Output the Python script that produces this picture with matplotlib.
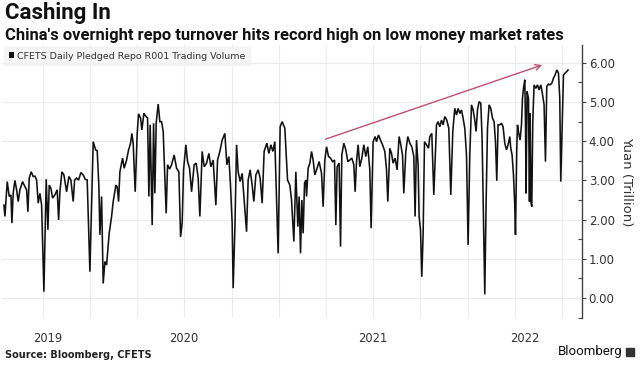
import matplotlib
matplotlib.use("Agg")
import matplotlib.pyplot as plt
import numpy as np
from matplotlib.patches import Patch
from matplotlib.ticker import MultipleLocator

# horizontal position along the chart (chart units) and R001 volume (trillion yuan)
pos = [
    4, 5, 7.3, 9.3, 11, 12, 13.3, 15, 16.7, 18.3, 20, 22.7, 25, 26.7, 28, 29.3,
    31.3, 33.3, 35, 36.7, 38.3, 40, 41.7, 44, 46.3, 48, 49.3, 51, 52.7, 55, 57.3,
    58.7, 60, 62, 64, 66.7, 69, 71, 73.3, 74.7, 76.7, 78.7, 81, 83.3, 85.3, 87.3,
    90, 93.3, 95.7, 97.3, 99, 100, 101.7, 103.3, 105, 106.7, 109.3, 111.7, 113.3,
    116, 117.3, 118.7, 120, 122.7, 124.3, 126.7, 128.7, 130.7, 132, 133.3, 135.3,
    137.3, 138.7, 140.7, 142, 144, 145, 147.7, 149, 150.3, 152.3, 153.7, 155,
    156.3, 158.3, 160, 161.7, 163.3, 166.3, 167.7, 169.7, 171.7, 174.3, 176.7,
    179, 180.7, 182.3, 183.7, 186, 187.7, 189.7, 191.7, 194.3, 196.3, 198.3, 200,
    202.3, 204.3, 206.7, 209, 211, 213.3, 216, 217.7, 220, 222.3, 225, 227, 229,
    230.7, 232.3, 233.3, 235, 236.7, 238.3, 240.3, 242.3, 244.3, 246.7, 248.3,
    250.3, 252.3, 254, 256, 258.3, 260.3, 262.3, 264.3, 267, 269, 271, 273, 275,
    278.3, 280.3, 282.3, 285, 287.7, 290, 291.7, 294, 296, 298, 299.3, 300.7, 302,
    303.3, 304.7, 306, 306.7, 308.3, 310, 311.7, 313.3, 315, 316.7, 319.3, 321.7,
    323.3, 325, 326.7, 328.7, 330.7, 332.7, 334.7, 336, 337.3, 339.3, 340.7, 342,
    344, 346, 348, 350, 352, 354, 355.3, 356.7, 358.3, 360, 362, 364, 366, 368,
    370, 371.3, 373.3, 375.3, 376.7, 378.7, 380.7, 382.7, 385, 386.7, 388, 390,
    391.7, 393.3, 395.3, 397.3, 399.3, 401, 402.7, 404, 406, 408, 410, 412, 414,
    415.3, 416.7, 418.3, 419.3, 420.7, 422, 423.3, 424.7, 426.7, 428.7, 430, 432,
    434, 436.7, 438.3, 440, 441.7, 443.3, 445, 447, 449, 451, 453, 455, 456.7,
    458.3, 460, 461.7, 463.3, 465, 466.7, 468.3, 470, 471.7, 473.3, 475, 476.3,
    477.7, 479.3, 481, 482.3, 483.7, 485, 486.3, 487.7, 489.3, 491, 492.7, 494.3,
    495.7, 497, 498.3, 500, 501.7, 503.3, 505, 506.7, 508.3, 510, 511, 512.3,
    513.7, 515, 515.7, 517, 517.7, 519, 520.3, 521.7, 522.7, 523.7, 525, 525.7,
    526.3, 527.3, 528.7, 529.7, 530.3, 531.3, 532, 533, 534.3, 536, 537.7, 539.3,
    541, 542.3, 544.3, 545.7, 547, 548.7, 550.3, 552, 553.7, 555.3, 557, 558.7,
    560, 561, 562.3, 563.7, 565.3, 567, 568.3,
]
volume = [
    2.37, 2.08, 2.97, 2.59, 2.63, 1.91, 2.68, 3.00, 2.76, 2.46, 2.76, 2.97, 2.84,
    2.76, 2.20, 3.06, 3.22, 3.10, 3.11, 3.01, 2.42, 2.67, 2.37, 0.16, 3.03, 1.74,
    2.88, 2.80, 2.55, 2.63, 2.76, 1.99, 2.71, 3.22, 3.14, 2.71, 3.10, 3.01, 2.46,
    3.01, 3.06, 3.01, 3.20, 3.14, 3.03, 3.01, 0.67, 3.99, 3.78, 3.76, 2.84, 1.61,
    2.59, 0.37, 0.93, 0.84, 1.65, 2.08, 2.46, 2.88, 2.84, 2.46, 3.22, 3.57, 3.31,
    3.52, 3.78, 3.95, 4.20, 3.95, 2.71, 4.20, 4.70, 4.59, 4.29, 4.71, 4.67, 4.59,
    2.59, 4.42, 1.86, 4.46, 2.67, 4.46, 4.95, 4.50, 4.50, 4.25, 2.16, 3.40, 3.29,
    3.40, 3.65, 3.31, 3.22, 1.56, 1.91, 3.27, 3.91, 3.48, 3.31, 2.71, 3.40, 3.44,
    3.06, 2.08, 3.74, 3.35, 3.44, 3.69, 3.35, 3.52, 2.37, 3.52, 3.74, 4.03, 4.20,
    3.40, 3.61, 2.84, 1.91, 0.25, 1.74, 3.91, 3.22, 2.97, 3.18, 2.50, 1.69, 3.01,
    3.27, 2.88, 2.46, 3.14, 3.27, 3.06, 2.42, 3.74, 3.95, 3.69, 3.91, 3.74, 3.99,
    1.14, 4.37, 4.50, 4.33, 3.01, 2.88, 2.50, 1.44, 3.22, 1.82, 2.59, 1.14, 2.50,
    1.65, 2.93, 3.01, 2.59, 3.31, 3.44, 3.74, 3.52, 3.14, 3.27, 3.48, 3.18, 2.33,
    3.52, 3.86, 3.61, 3.57, 3.48, 3.52, 1.86, 3.35, 3.44, 1.31, 3.65, 3.95, 3.78,
    3.48, 3.52, 3.57, 3.40, 2.71, 3.48, 3.91, 3.35, 3.57, 3.91, 3.61, 3.86, 3.27,
    1.78, 3.99, 4.12, 3.99, 4.16, 4.03, 3.91, 3.74, 3.27, 2.46, 3.82, 3.69, 3.44,
    3.57, 3.27, 4.12, 3.91, 3.65, 2.67, 3.74, 4.12, 3.95, 3.86, 3.61, 2.08, 4.03,
    3.40, 2.08, 1.74, 0.54, 1.61, 3.99, 3.91, 3.82, 4.12, 4.20, 2.63, 4.42, 4.50,
    4.37, 4.54, 4.42, 4.63, 4.54, 4.33, 2.63, 4.25, 4.84, 4.67, 4.84, 4.71, 4.80,
    4.59, 4.33, 3.65, 1.35, 3.65, 4.93, 4.80, 4.54, 4.25, 4.80, 5.01, 4.97, 4.08,
    1.95, 0.09, 2.40, 4.33, 4.93, 4.84, 4.59, 4.50, 3.99, 2.99, 4.42, 4.42, 4.46,
    4.37, 3.95, 3.78, 3.91, 4.12, 3.82, 3.65, 3.14, 2.37, 1.61, 3.82, 4.42, 4.20,
    4.03, 4.42, 5.10, 5.35, 5.57, 4.50, 2.67, 5.27, 5.10, 2.46, 4.71, 2.42, 2.33,
    4.50, 5.44, 5.35, 5.44, 5.31, 5.44, 5.27, 4.93, 3.48, 5.40, 5.46, 5.44, 5.48,
    5.61, 5.69, 5.82, 5.74, 5.10, 2.97, 4.33, 5.69, 5.74, 5.78, 5.82,
]

year_labels = ["2019", "2020", "2021", "2022"]
year_pos = [48, 184, 373, 525]

# trend arrow drawn on the chart: (position, value)
arrow_start = (323, 4.03)
arrow_end = (545, 5.97)

fig = plt.figure(figsize=(6.4, 3.65), dpi=100)
fig.patch.set_facecolor("white")
ax = fig.add_axes([0.003, 0.129, 0.906, 0.748])

ax.plot(pos, volume, color="#111111", linewidth=1.15, solid_joinstyle="miter")

ax.set_xlim(2, 582)
ax.set_ylim(-0.51, 6.46)

# light grid
for gx in np.arange(43, 575, 47.2):
    ax.axvline(gx, color="#ececec", linewidth=0.8, zorder=0)
for gy in range(0, 7):
    ax.axhline(gy, color="#ececec", linewidth=0.8, zorder=0)

ax.annotate(
    "", xy=arrow_end, xytext=arrow_start,
    arrowprops=dict(arrowstyle="->", color="#c0506e", lw=1.0, mutation_scale=10),
)

for side in ["top", "left", "bottom"]:
    ax.spines[side].set_visible(False)
ax.spines["right"].set_color("#444444")
ax.spines["right"].set_linewidth(1.0)

ax.yaxis.tick_right()
ax.set_yticks(range(0, 7))
ax.set_yticklabels([f"{v:.2f}" for v in range(0, 7)])
ax.yaxis.set_minor_locator(MultipleLocator(0.5))
ax.tick_params(axis="y", which="major", direction="out", length=3, width=0.8,
               color="#444444", labelsize=8.5, labelcolor="#333333", pad=2)
ax.tick_params(axis="y", which="minor", direction="in", length=3, width=0.8,
               color="#444444")
ax.yaxis.set_label_position("right")
ax.set_ylabel("Yuan (Trillion)", rotation=270, fontsize=9.5, color="#333333",
              labelpad=13)

ax.set_xticks(year_pos)
ax.set_xticklabels(year_labels)
ax.tick_params(axis="x", length=0, labelsize=8.3, labelcolor="#333333", pad=10)

leg = ax.legend(
    handles=[Patch(facecolor="#111111", edgecolor="none")],
    labels=["CFETS Daily Pledged Repo R001 Trading Volume"],
    loc="upper left", bbox_to_anchor=(0.0, 1.0), fontsize=6.8,
    frameon=True, fancybox=False, handlelength=0.6, handleheight=0.6,
    handletextpad=0.3, borderpad=0.5, borderaxespad=0.2,
)
leg.get_frame().set_facecolor("#f3f3f3")
leg.get_frame().set_edgecolor("#f3f3f3")
for t in leg.get_texts():
    t.set_color("#333333")

fig.text(0.008, 0.965, "Cashing In", fontsize=16, fontweight="bold",
         family="Roboto", color="#111111", va="center", ha="left")
fig.text(0.008, 0.903,
         "China's overnight repo turnover hits record high on low money market rates",
         fontsize=11.9, fontweight="bold", family="Roboto", color="#111111",
         va="center", ha="left")
fig.text(0.008, 0.028, "Source: Bloomberg, CFETS", fontsize=7, fontweight="bold",
         color="#222222", va="center", ha="left")
fig.text(0.972, 0.036, "Bloomberg", fontsize=9.5, family="Roboto",
         color="#111111", va="center", ha="right")
fig.patches.append(plt.Rectangle((0.978, 0.026), 0.012, 0.021,
                                 transform=fig.transFigure, color="#333333"))

fig.savefig("out.png", dpi=100, facecolor="white")
